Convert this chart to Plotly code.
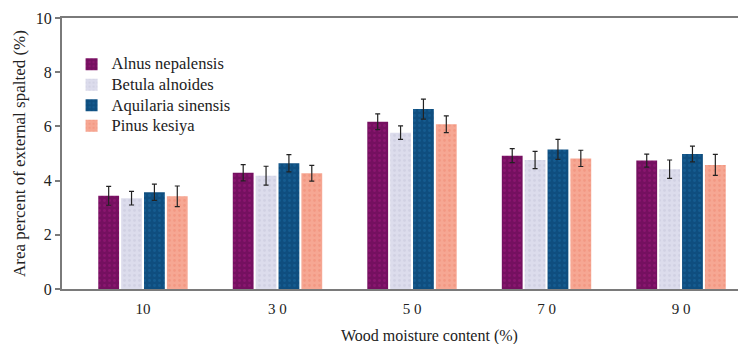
import plotly.graph_objects as go

moisture_labels = ["10", "3 0", "5 0", "7 0", "9 0"]
species = ["Alnus nepalensis", "Betula alnoides", "Aquilaria sinensis", "Pinus kesiya"]

alnus = [3.44, 4.29, 6.17, 4.92, 4.74]
betula = [3.35, 4.18, 5.77, 4.76, 4.42]
aquilaria = [3.57, 4.64, 6.64, 5.15, 4.98]
pinus = [3.42, 4.27, 6.08, 4.82, 4.58]

alnus_err = [0.35, 0.30, 0.29, 0.26, 0.24]
betula_err = [0.25, 0.35, 0.25, 0.32, 0.34]
aquilaria_err = [0.30, 0.32, 0.37, 0.37, 0.29]
pinus_err = [0.38, 0.29, 0.31, 0.30, 0.39]

values = [alnus, betula, aquilaria, pinus]
errors = [alnus_err, betula_err, aquilaria_err, pinus_err]
colors = ["#751060", "#dcdcec", "#0f4e7f", "#f6a793"]
pattern_fg = ["#a01a80", "#c6c6da", "#1b6aa2", "#f08a74"]

group_idx = list(range(len(moisture_labels)))

fig = go.Figure()
for name, v, e, c, pf in zip(species, values, errors, colors, pattern_fg):
    fig.add_trace(go.Bar(
        x=group_idx, y=v, name=f"<span style='font-size:16.5px'>{name}</span>",
        marker=dict(color=c, line=dict(width=0),
                    pattern=dict(shape=".", fgcolor=pf, size=5, solidity=0.25)),
        error_y=dict(type="data", array=e, visible=True, color="#222222",
                     thickness=1.2, width=2.5),
    ))

font_family = "Liberation Serif, Times New Roman, serif"
# page body adds an 8px offset, so the figure is sized to fill the window
fig.update_layout(
    width=738, height=336,
    margin=dict(l=54, r=0, t=10, b=55),
    paper_bgcolor="white", plot_bgcolor="white",
    barmode="group", bargap=0.32, bargroupgap=0.09,
    font=dict(family=font_family, size=15, color="#222222"),
    showlegend=True,
    legend=dict(x=0.014, y=0.886, xanchor="left", yanchor="top",
                bgcolor="rgba(0,0,0,0)", font=dict(size=13.5, family=font_family),
                tracegroupgap=0),
    annotations=[dict(text="Wood moisture content (%)", xref="paper", yref="paper",
                      x=0.538, y=-0.175, xanchor="center", yanchor="middle",
                      showarrow=False, font=dict(size=16, family=font_family))],
)
fig.update_xaxes(
    range=[-0.602, 4.483], tickvals=group_idx, ticktext=moisture_labels,
    showline=True, linecolor="#7a7a7a", linewidth=2, mirror=True,
    ticks="outside", ticklen=5, tickcolor="rgba(0,0,0,0)",
    showgrid=False, zeroline=False, tickfont=dict(size=15),
)
fig.update_yaxes(
    range=[0, 10], dtick=2, showline=True, linecolor="#7a7a7a", linewidth=2,
    ticks="outside", ticklen=5, tickcolor="#7a7a7a", tickwidth=1.5,
    showgrid=False, zeroline=False, tickfont=dict(size=16),
    title=dict(text="Area percent of external spalted (%)", font=dict(size=17), standoff=6),
)
fig.write_html("out.html")
